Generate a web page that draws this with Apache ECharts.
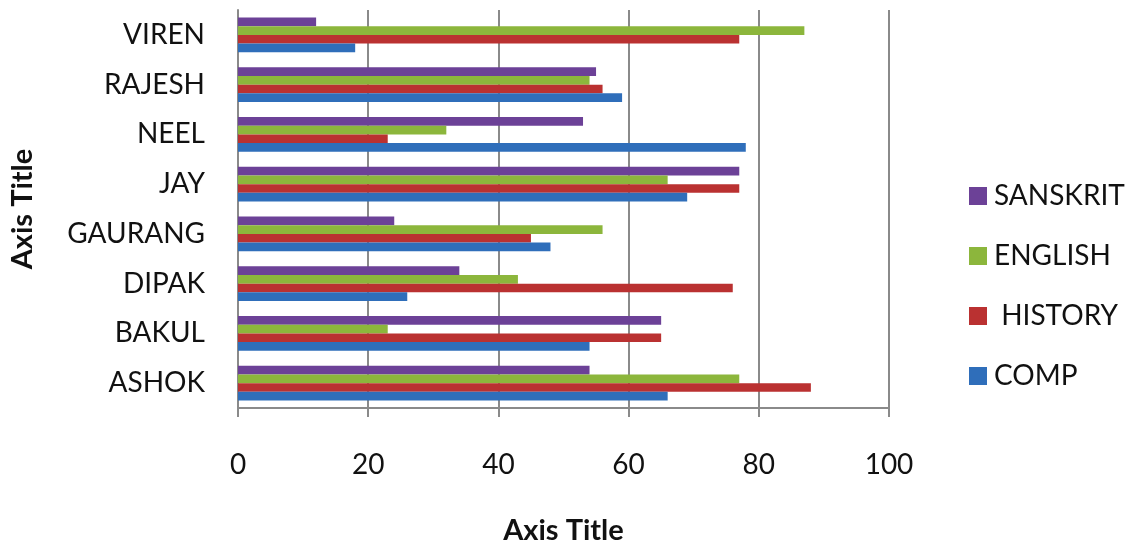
<!DOCTYPE html>
<html>
<head>
<meta charset="utf-8">
<title>Marks by subject</title>
<script src="https://cdn.jsdelivr.net/npm/echarts@6/dist/echarts.min.js"></script>
<style>
  html, body { margin: 0; padding: 0; background: #ffffff; }
  #chart { width: 1135px; height: 550px; }
</style>
</head>
<body>
<div id="chart"></div>
<script>
// Students, listed bottom to top along the category axis
const students = ['ASHOK', 'BAKUL', 'DIPAK', 'GAURANG', 'JAY', 'NEEL', 'RAJESH', 'VIREN'];

// Marks per subject, one value per student
const comp     = [66, 54, 26, 48, 69, 78, 59, 18];
const history  = [88, 65, 76, 45, 77, 23, 56, 77];
const english  = [77, 23, 43, 56, 66, 32, 54, 87];
const sanskrit = [54, 65, 34, 24, 77, 53, 55, 12];

// Series order: the first one sits at the top of each group of bars
const subjects = ['SANSKRIT', 'ENGLISH', 'HISTORY', 'COMP'];
const xTicks = [0, 20, 40, 60, 80, 100];

const colors = {
  COMP: '#2f6eba',
  HISTORY: '#ba3131',
  ENGLISH: '#8cb63c',
  SANSKRIT: '#6c4197'
};

const marks = { COMP: comp, HISTORY: history, ENGLISH: english, SANSKRIT: sanskrit };

const font = 'Lato, "Open Sans", sans-serif';
const gridColor = '#8a8a8a';
const textColor = '#111111';

const chart = echarts.init(document.getElementById('chart'), null, { renderer: 'canvas' });

chart.setOption({
  animation: false,
  backgroundColor: '#ffffff',
  textStyle: { fontFamily: font },
  grid: { left: 237, right: 246, top: 10, bottom: 137, containLabel: false },
  legend: {
    orient: 'vertical',
    left: 964,
    top: 177,
    itemWidth: 18,
    itemHeight: 18,
    itemGap: 32,
    icon: 'rect',
    data: subjects,
    formatter: function (name) { return name === 'HISTORY' ? ' ' + name : name; },
    textStyle: { fontFamily: font, fontSize: 28, color: textColor, padding: [0, 0, 0, 2] }
  },
  xAxis: {
    type: 'value',
    min: xTicks[0],
    max: xTicks[xTicks.length - 1],
    interval: xTicks[1] - xTicks[0],
    name: 'Axis Title',
    nameLocation: 'middle',
    nameGap: 108,
    nameTextStyle: { fontFamily: font, fontSize: 29, fontWeight: 'bold', color: textColor },
    axisLine: { show: true, lineStyle: { color: gridColor, width: 2 } },
    axisTick: { show: true, length: 9, lineStyle: { color: gridColor, width: 2 } },
    axisLabel: { fontFamily: font, fontSize: 28, color: textColor, margin: 43 },
    splitLine: { show: true, lineStyle: { color: gridColor, width: 2 } }
  },
  yAxis: {
    type: 'category',
    data: students,
    name: 'Axis Title',
    nameLocation: 'middle',
    nameRotate: 90,
    nameGap: 201,
    nameTextStyle: { fontFamily: font, fontSize: 29, fontWeight: 'bold', color: textColor },
    axisLine: { show: true, lineStyle: { color: gridColor, width: 2 } },
    axisTick: { show: false },
    axisLabel: { fontFamily: font, fontSize: 28, color: textColor, margin: 33 },
    splitLine: { show: false }
  },
  series: subjects.map(function (name) {
    return {
      name: name,
      type: 'bar',
      data: marks[name],
      barGap: '0%',
      barCategoryGap: '30%',
      itemStyle: { color: colors[name] }
    };
  })
});
</script>
</body>
</html>
